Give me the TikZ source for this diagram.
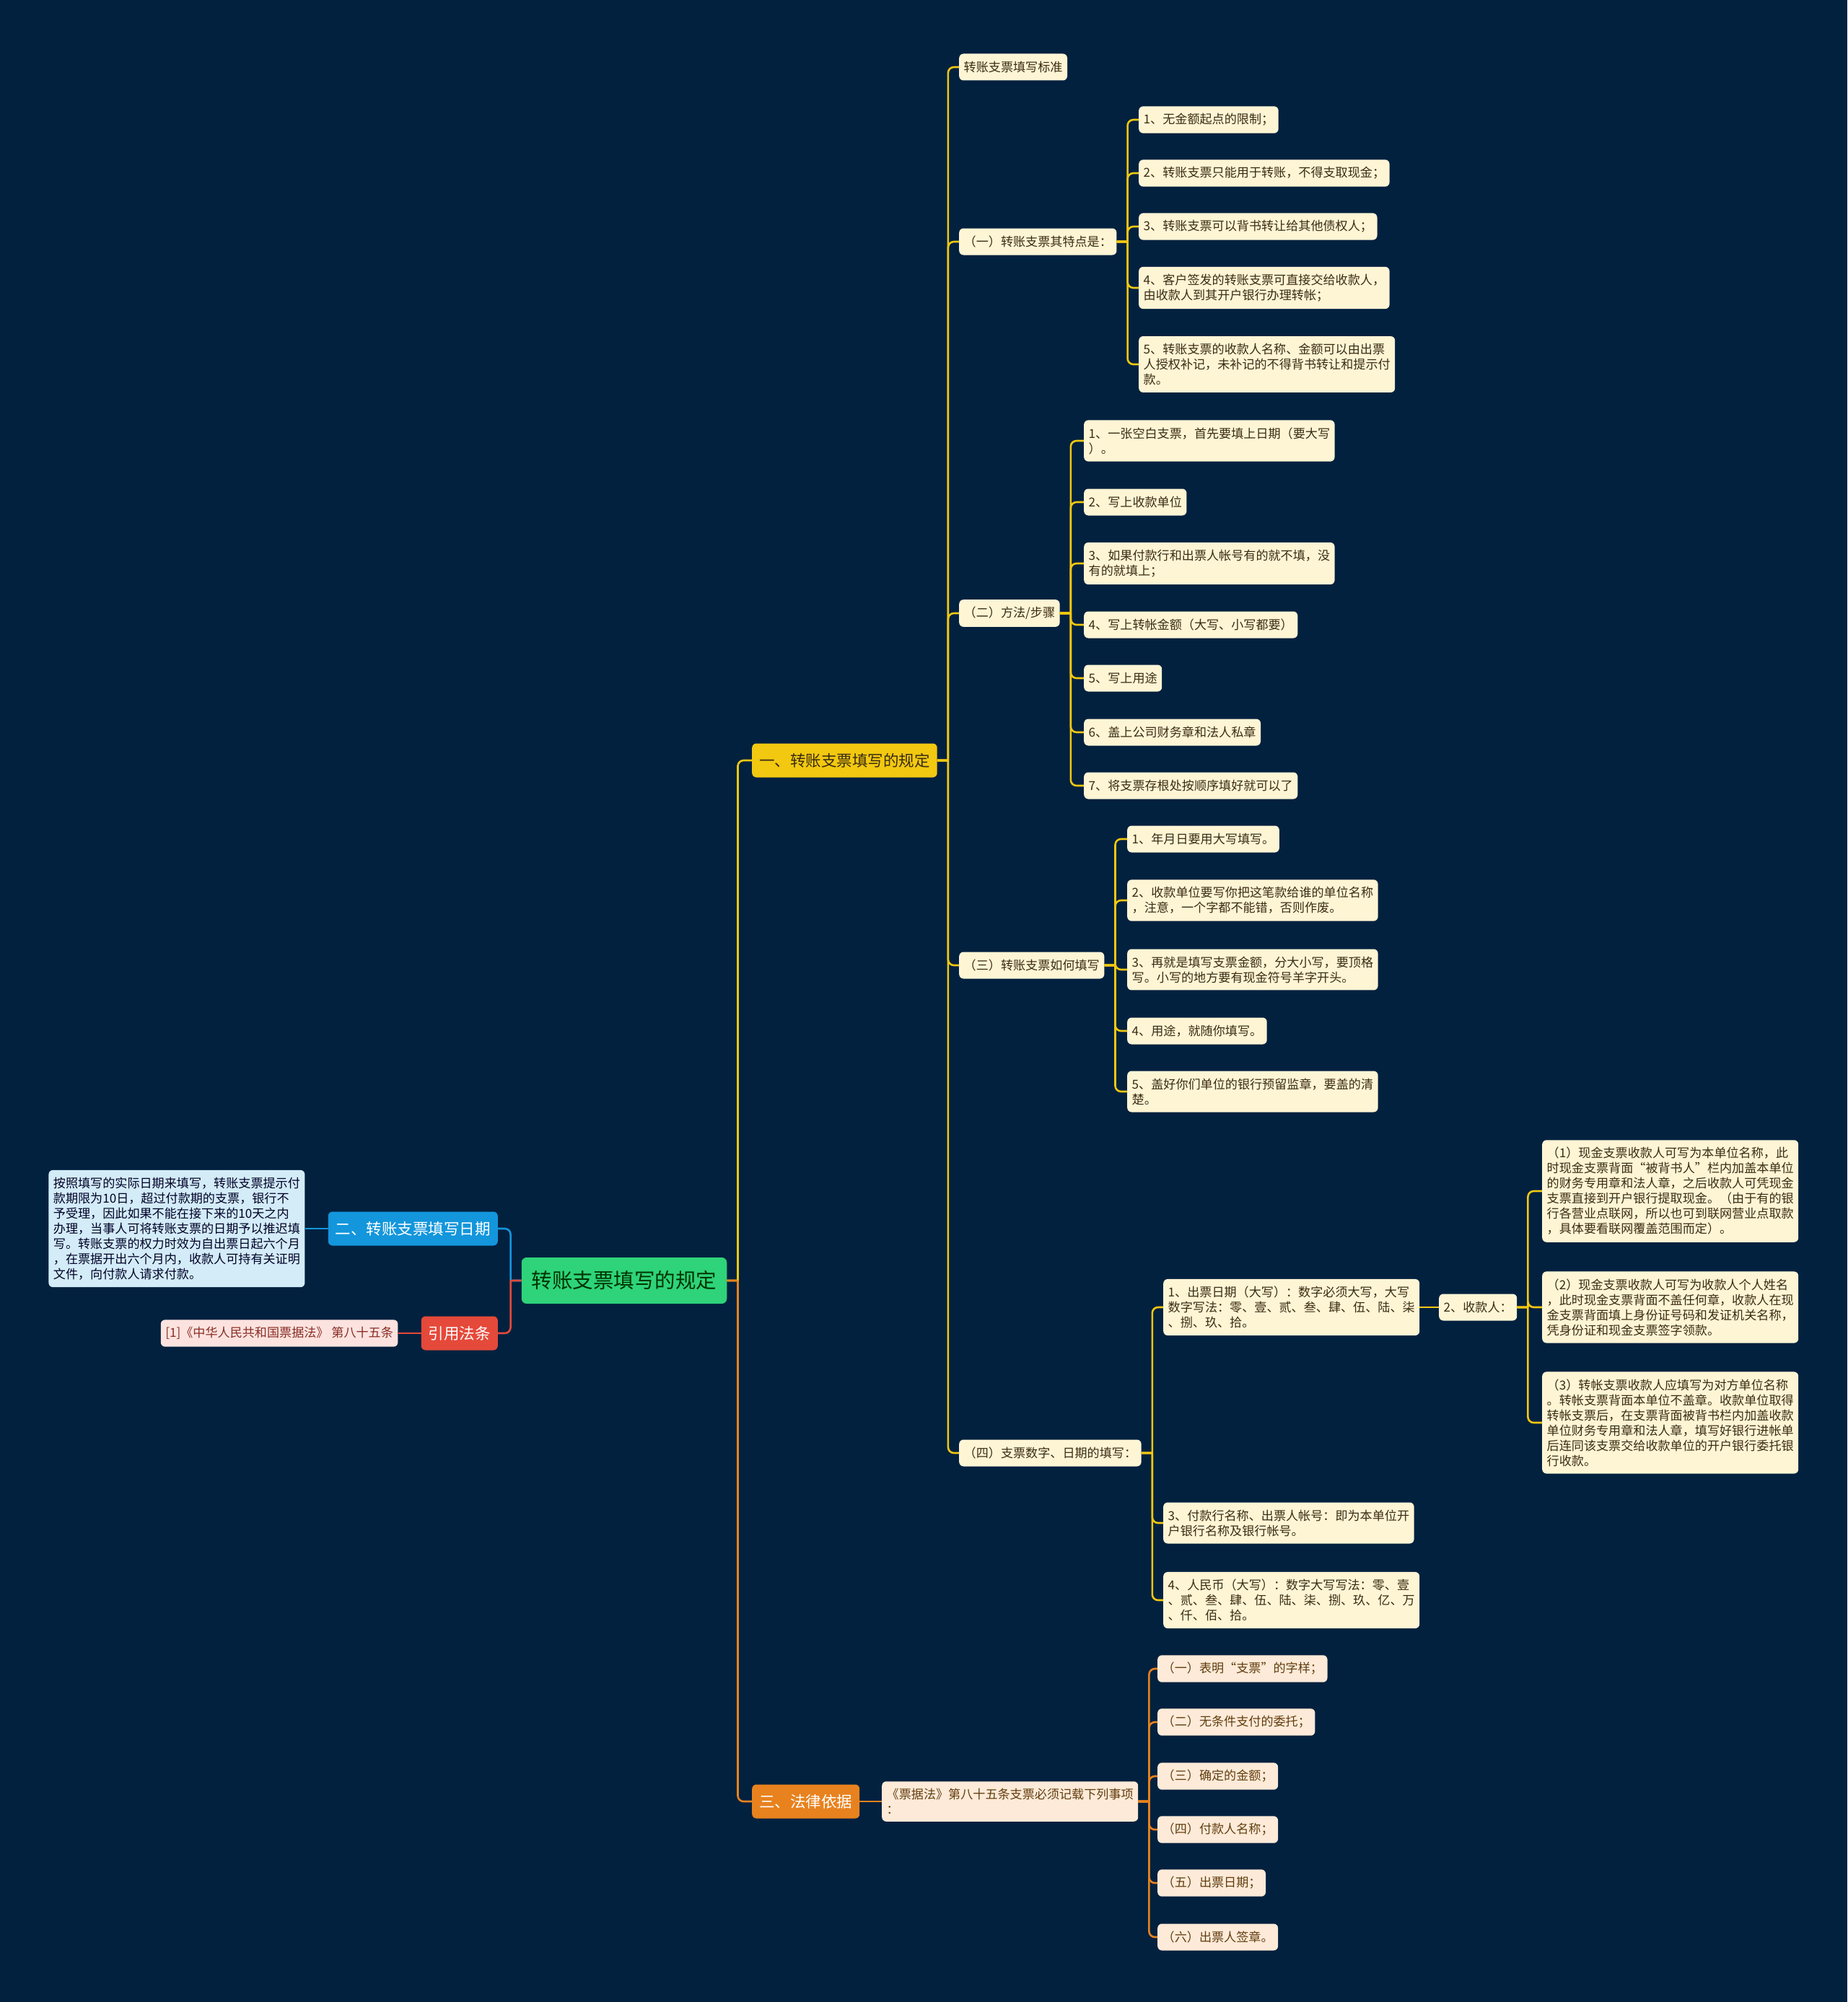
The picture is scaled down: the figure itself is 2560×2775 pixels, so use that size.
\documentclass[tikz,border=0pt]{standalone}
\usepackage{fontspec}
\setmainfont{Noto Sans CJK SC}
\usepackage{xcolor}
\usetikzlibrary{positioning}

\definecolor{navybg}{HTML}{02213F}
\definecolor{rootgreen}{HTML}{2ED37A}
\definecolor{ruleyellow}{HTML}{F2C811}
\definecolor{dateblue}{HTML}{1396DC}
\definecolor{citered}{HTML}{E5493A}
\definecolor{laworange}{HTML}{E8821E}
\definecolor{cream}{HTML}{FEF5D5}
\definecolor{peach}{HTML}{FDEAD8}
\definecolor{paleblue}{HTML}{D3ECF8}
\definecolor{palepink}{HTML}{FCE3DF}
\definecolor{inkbrown}{HTML}{3A2C12}

\tikzset{
    fork/.style={to path={-- ++(15,0) (\tikztostart) ++(15,0) |- (\tikztotarget)}},
    lfork/.style={to path={-- ++(-15,0) (\tikztostart) ++(-15,0) |- (\tikztotarget)}},
}

\begin{document}
\begin{tikzpicture}[x=1pt, y=-1pt,
    leaf/.style={rectangle, rounded corners=6, fill=cream, text=inkbrown, align=left, inner xsep=6.5, inner ysep=10, minimum height=37, anchor=west, font=\fontsize{17.1}{21}\selectfont},
    lawleaf/.style={leaf, fill=peach, text=inkbrown!80!orange},
    main/.style={rectangle, rounded corners=6, text=white, minimum height=47, inner xsep=10, font=\fontsize{21.5}{25}\selectfont},
    root/.style={rectangle, rounded corners=7, fill=rootgreen, text=black!80!green, minimum height=64, inner xsep=14, font=\fontsize{28.5}{32}\selectfont},
    yline/.style={draw=ruleyellow, line width=2.6pt, rounded corners=8},
    oline/.style={draw=laworange, line width=2.6pt, rounded corners=8},
    bline/.style={draw=dateblue, line width=2.6pt, rounded corners=8},
    rline/.style={draw=citered, line width=2.6pt, rounded corners=8}
]

\fill[navybg] (0,0) rectangle (2560,2775);
\useasboundingbox (0,0) rectangle (2560,2775);

% Root
\node[root] (root) at (865,1775) {转账支票填写的规定};

% Main topics
\node[main, fill=ruleyellow, text=inkbrown, anchor=west] (rule) at (1042,1054) {一、转账支票填写的规定};
\node[main, fill=dateblue, anchor=east] (date) at (690,1703) {二、转账支票填写日期};
\node[main, fill=citered, anchor=east] (cite) at (690,1848) {引用法条};
\node[main, fill=laworange, anchor=west] (law) at (1042,2497) {三、法律依据};

% Date and citation details
\node[leaf, fill=paleblue, text=black!85!blue, anchor=east] (datetext) [left=32pt of date] {按照填写的实际日期来填写，转账支票提示付\\款期限为10日，超过付款期的支票，银行不\\予受理，因此如果不能在接下来的10天之内\\办理，当事人可将转账支票的日期予以推迟填\\写。转账支票的权力时效为自出票日起六个月\\，在票据开出六个月内，收款人可持有关证明\\文件，向付款人请求付款。};
\node[leaf, fill=palepink, text=citered!60!black, anchor=east, minimum height=37] (citetext) [left=32pt of cite] {[1]《中华人民共和国票据法》 第八十五条};

% Rule subtopics
\node[leaf] (std) at (1329,93) {转账支票填写标准};
\node[leaf] (feat) at (1329,335) {（一）转账支票其特点是：};
\node[leaf] (step) at (1329,850) {（二）方法/步骤};
\node[leaf] (how) at (1329,1338) {（三）转账支票如何填写};
\node[leaf] (num) at (1329,2014) {（四）支票数字、日期的填写：};

% Features
\node[leaf] (feat1) at (1578,166) {1、无金额起点的限制；};
\node[leaf] (feat2) at (1578,240) {2、转账支票只能用于转账，不得支取现金；};
\node[leaf] (feat3) at (1578,314) {3、转账支票可以背书转让给其他债权人；};
\node[leaf] (feat4) at (1578,399) {4、客户签发的转账支票可直接交给收款人，\\由收款人到其开户银行办理转帐；};
\node[leaf] (feat5) at (1578,505) {5、转账支票的收款人名称、金额可以由出票\\人授权补记，未补记的不得背书转让和提示付\\款。};

% Steps
\node[leaf] (step1) at (1502,611) {1、一张空白支票，首先要填上日期（要大写\\）。};
\node[leaf] (step2) at (1502,696) {2、写上收款单位};
\node[leaf] (step3) at (1502,781) {3、如果付款行和出票人帐号有的就不填，没\\有的就填上；};
\node[leaf] (step4) at (1502,866) {4、写上转帐金额（大写、小写都要）};
\node[leaf] (step5) at (1502,940) {5、写上用途};
\node[leaf] (step6) at (1502,1015) {6、盖上公司财务章和法人私章};
\node[leaf] (step7) at (1502,1089) {7、将支票存根处按顺序填好就可以了};

% How to fill
\node[leaf] (how1) at (1562,1163) {1、年月日要用大写填写。};
\node[leaf] (how2) at (1562,1248) {2、收款单位要写你把这笔款给谁的单位名称\\，注意，一个字都不能错，否则作废。};
\node[leaf] (how3) at (1562,1344) {3、再就是填写支票金额，分大小写，要顶格\\写。小写的地方要有现金符号羊字开头。};
\node[leaf] (how4) at (1562,1429) {4、用途，就随你填写。};
\node[leaf] (how5) at (1562,1513) {5、盖好你们单位的银行预留监章，要盖的清\\楚。};

% Numbers and dates
\node[leaf] (num1) at (1612,1812) {1、出票日期（大写）：数字必须大写，大写\\数字写法：零、壹、贰、叁、肆、伍、陆、柒\\、捌、玖、拾。};
\node[leaf] (num3) at (1612,2111) {3、付款行名称、出票人帐号：即为本单位开\\户银行名称及银行帐号。};
\node[leaf] (num4) at (1612,2218) {4、人民币（大写）：数字大写写法：零、壹\\、贰、叁、肆、伍、陆、柒、捌、玖、亿、万\\、仟、佰、拾。};
\node[leaf] (payee) at (1994,1812) {2、收款人：};

% Payee
\node[leaf] (payee1) at (2137,1651) {（1）现金支票收款人可写为本单位名称，此\\时现金支票背面“被背书人”栏内加盖本单位\\的财务专用章和法人章，之后收款人可凭现金\\支票直接到开户银行提取现金。（由于有的银\\行各营业点联网，所以也可到联网营业点取款\\，具体要看联网覆盖范围而定）。};
\node[leaf] (payee2) at (2137,1812) {（2）现金支票收款人可写为收款人个人姓名\\，此时现金支票背面不盖任何章，收款人在现\\金支票背面填上身份证号码和发证机关名称，\\凭身份证和现金支票签字领款。};
\node[leaf] (payee3) at (2137,1972) {（3）转帐支票收款人应填写为对方单位名称\\。转帐支票背面本单位不盖章。收款单位取得\\转帐支票后，在支票背面被背书栏内加盖收款\\单位财务专用章和法人章，填写好银行进帐单\\后连同该支票交给收款单位的开户银行委托银\\行收款。};

% Legal basis
\node[lawleaf] (item) at (1222,2497) {《票据法》第八十五条支票必须记载下列事项\\：};
\node[lawleaf] (item1) at (1604,2313) {（一）表明“支票”的字样；};
\node[lawleaf] (item2) at (1604,2387) {（二）无条件支付的委托；};
\node[lawleaf] (item3) at (1604,2462) {（三）确定的金额；};
\node[lawleaf] (item4) at (1604,2536) {（四）付款人名称；};
\node[lawleaf] (item5) at (1604,2610) {（五）出票日期；};
\node[lawleaf] (item6) at (1604,2685) {（六）出票人签章。};

% Connections
\draw[yline] (root.east) to[fork] (rule.west);
\draw[oline] (root.east) to[fork] (law.west);
\draw[bline] (root.west) to[lfork] (date.east);
\draw[rline] (root.west) to[lfork] (cite.east);
\draw[bline] (date.west) -- (datetext.east);
\draw[rline] (cite.west) -- (citetext.east);

\foreach \c in {std, feat, step, how, num}
    \draw[yline] (rule.east) to[fork] (\c.west);
\foreach \c in {feat1, feat2, feat3, feat4, feat5}
    \draw[yline] (feat.east) to[fork] (\c.west);
\foreach \c in {step1, step2, step3, step4, step5, step6, step7}
    \draw[yline] (step.east) to[fork] (\c.west);
\foreach \c in {how1, how2, how3, how4, how5}
    \draw[yline] (how.east) to[fork] (\c.west);
\foreach \c in {num1, num3, num4}
    \draw[yline] (num.east) to[fork] (\c.west);
\draw[yline] (num1.east) -- (payee.west);
\foreach \c in {payee1, payee2, payee3}
    \draw[yline] (payee.east) to[fork] (\c.west);

\draw[oline] (law.east) -- (item.west);
\foreach \c in {item1, item2, item3, item4, item5, item6}
    \draw[oline] (item.east) to[fork] (\c.west);

\end{tikzpicture}
\end{document}
